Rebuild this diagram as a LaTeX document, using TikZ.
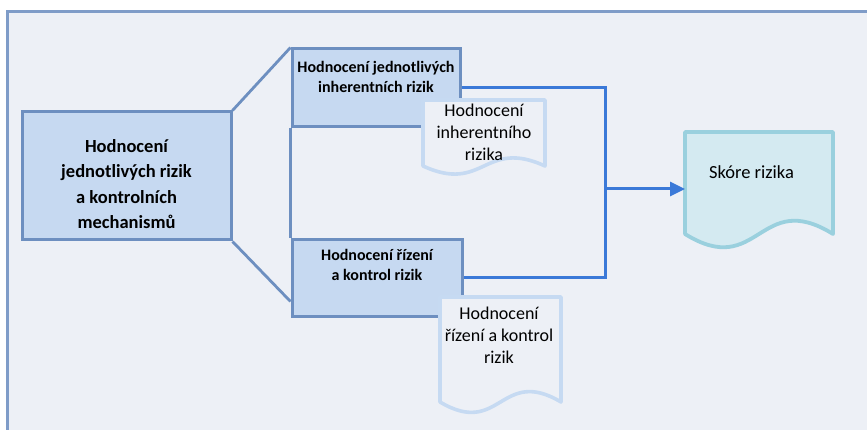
\documentclass[tikz,border=0pt]{standalone}
\usepackage{fontspec}
\setmainfont{Carlito}
\usetikzlibrary{arrows.meta,calc}
\definecolor{framebg}{HTML}{EDF0F6}
\definecolor{frameline}{HTML}{7F9CC8}
\definecolor{boxfill}{HTML}{C6D9F1}
\definecolor{boxline}{HTML}{6D8FC0}
\definecolor{docline}{HTML}{C6DAF2}
\definecolor{connc}{HTML}{3B79D8}
\definecolor{scorefill}{HTML}{D4EAF1}
\definecolor{scoreline}{HTML}{9AD0DE}
\newcommand{\docshape}[6]{%
  \path[#1] (#2,#3) -- (#4,#3) -- (#4,#5)
    .. controls ({(#2+#4)/2},{#5-#6}) and ({(#2+#4)/2},{#5+#6}) .. (#2,#5) -- cycle;}
\begin{document}
\begin{tikzpicture}[x=1pt,y=-1pt,
  box/.style={draw=boxline,line width=3pt,fill=boxfill,inner sep=0pt},
  trap/.style={draw=boxline,line width=2.8pt},
  boldtxt/.style={font=\bfseries\fontsize{16}{20}\selectfont,align=center,inner sep=0pt},
  bigbold/.style={font=\bfseries\fontsize{18.5}{25.5}\selectfont,align=center,inner sep=0pt},
  doctxt/.style={font=\fontsize{18}{22}\selectfont,align=center,inner sep=0pt},
  docstyle/.style={draw=docline,line width=3.6pt,fill=framebg,line join=round},
  scorestyle/.style={draw=scoreline,line width=3.8pt,fill=scorefill,line join=round},
  connline/.style={draw=connc,line width=3pt},
  anchorbox/.style={inner sep=0pt,outer sep=0pt}]
\useasboundingbox (0,0) rectangle (867,430);
\clip (0,0) rectangle (867,430);
\fill[white] (0,0) rectangle (867,430);
% frame
\draw[draw=frameline,fill=framebg,line width=3pt] (7.5,12) rectangle (900,470);
% boxes
\node[box,minimum width=209pt,minimum height=128pt] (m) at (126.5,176) {};
\node[box,minimum width=168pt,minimum height=78pt] (b1) at (376,88) {};
\node[box,minimum width=170pt,minimum height=76pt] (b2) at (377,278) {};
\coordinate (p2) at ($(b2.south west)+(0,-16)$);
\draw[trap] (m.north east) -- (b1.north west);
\draw[trap] (m.south east) -- (p2);
\draw[trap] (b1.south west) -- (b2.north west);
\node[bigbold] (mt) at (126.5,184) {Hodnocení\\jednotlivých rizik\\a kontrolních\\mechanismů};
\node[boldtxt] (b1t) at (376,77) {Hodnocení jednotlivých\\inherentních rizik};
\node[boldtxt] (b2t) at (377,264.5) {Hodnocení řízení\\a kontrol rizik};
% connectors
\coordinate (j) at (605,189);
\draw[connline] (b1.east) -| (j) |- (b2.east);
% documents
\docshape{docstyle}{423}{100}{545}{166}{28}
\node[doctxt] (d1) at (484,132) {Hodnocení\\inherentního\\rizika};
\docshape{docstyle}{440}{297}{561}{402}{36}
\node[doctxt] (d2) at (499,335) {Hodnocení\\řízení a kontrol\\rizik};
\docshape{scorestyle}{685}{132}{833}{234}{46}
\node[anchorbox,minimum width=148pt,minimum height=114pt] (d3) at (759,189) {};
\node[doctxt,font=\fontsize{18.5}{22}\selectfont] (d3t) at (751.5,172) {Skóre rizika};
\draw[connline,-{Triangle[length=15pt,width=14pt]}] (j) -- (d3.west);
\end{tikzpicture}
\end{document}
